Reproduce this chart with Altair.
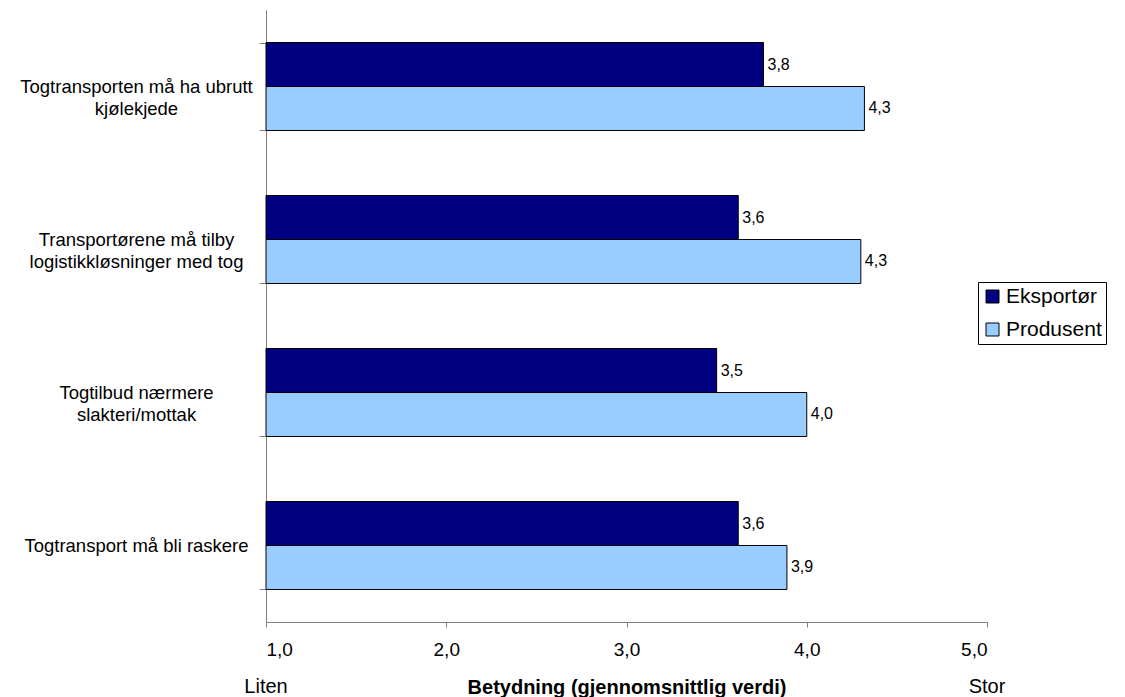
import altair as alt
import pandas as pd

categories = [
    "Togtransporten må ha ubrutt\nkjølekjede",
    "Transportørene må tilby\nlogistikkløsninger med tog",
    "Togtilbud nærmere\nslakteri/mottak",
    "Togtransport må bli raskere",
]
series = ["Eksportør", "Produsent"]
eksportor = [3.76, 3.62, 3.50, 3.62]
produsent = [4.32, 4.30, 4.00, 3.89]
colors = ["#000080", "#99CCFF"]
end_labels = ["Liten", "Stor"]
end_positions = [1, 5]

rows = []
for c, e, p in zip(categories, eksportor, produsent):
    rows.append({"cat": c, "series": series[0], "value": e})
    rows.append({"cat": c, "series": series[1], "value": p})
df = pd.DataFrame(rows)
ends = pd.DataFrame({"pos": end_positions, "txt": end_labels})

FONT = "Liberation Sans"
W, H = 721, 612

xscale = alt.Scale(domain=[1, 5], zero=False, nice=False)
yscale = alt.Scale(domain=categories, paddingInner=0.425, paddingOuter=0.2125)
yoff = alt.YOffset("series:N", sort=series, scale=alt.Scale(paddingInner=0, paddingOuter=0))

base = alt.Chart(df).transform_calculate(
    base="1",
    label="replace(format(datum.value, '.1f'), '.', ',')",
)

bars = base.mark_bar(stroke="black", strokeWidth=1).encode(
    x=alt.X(
        "value:Q",
        scale=xscale,
        axis=alt.Axis(
            values=[1, 2, 3, 4, 5],
            format=".1f",
            labelExpr="replace(datum.label, '.', ',')",
            title="Betydning (gjennomsnittlig verdi)",
            titleFontWeight="bold",
            titleFontSize=20,
            titleFont=FONT,
            titleColor="black",
            titleX=W / 2,
            titleY=65,
            titleAlign="center",
            titleBaseline="middle",
            grid=False,
            tickSize=5,
            domainColor="#808080",
            tickColor="#808080",
            labelFontSize=19,
            labelFont=FONT,
            labelColor="black",
            labelPadding=13,
        ),
    ),
    x2=alt.X2("base:Q"),
    y=alt.Y(
        "cat:N",
        sort=categories,
        scale=yscale,
        axis=alt.Axis(
            title=None,
            labelExpr="split(datum.label, '\\n')",
            labelAlign="center",
            labelBaseline="middle",
            labelPadding=123,
            labelFontSize=18.5,
            labelFont=FONT,
            labelColor="black",
            labelLineHeight=22,
            labelLimit=400,
            tickBand="extent",
            tickSize=7,
            domainColor="#808080",
            tickColor="#808080",
            grid=False,
        ),
    ),
    yOffset=yoff,
    color=alt.Color(
        "series:N",
        sort=series,
        scale=alt.Scale(domain=series, range=colors),
        legend=alt.Legend(
            title=None,
            orient="none",
            legendX=712,
            legendY=272,
            strokeColor="black",
            padding=4,
            labelFontSize=21,
            labelFont=FONT,
            labelColor="black",
            labelLimit=300,
            symbolType="square",
            symbolSize=169,
            symbolStrokeColor="black",
            symbolStrokeWidth=1,
            rowPadding=11,
            labelOffset=3,
        ),
    ),
)

labels = base.mark_text(
    align="left", baseline="middle", dx=4, fontSize=16, font=FONT, color="black"
).encode(
    x=alt.X("value:Q", scale=xscale),
    y=alt.Y("cat:N", sort=categories, scale=yscale),
    yOffset=yoff,
    text="label:N",
)

end_text = alt.Chart(ends).mark_text(
    align="center", baseline="middle", fontSize=20, font=FONT, color="black"
).encode(
    x=alt.X("pos:Q", scale=xscale),
    y=alt.value(H + 65),
    text="txt:N",
)

chart = alt.layer(bars, labels, end_text).properties(
    width=W,
    height=H,
    autosize=alt.AutoSizeParams(type="none"),
    padding={"left": 258, "top": 2, "right": 130, "bottom": 75},
).configure_view(strokeWidth=0)

chart.save("out.html", embed_options={"renderer": "svg", "actions": False})
